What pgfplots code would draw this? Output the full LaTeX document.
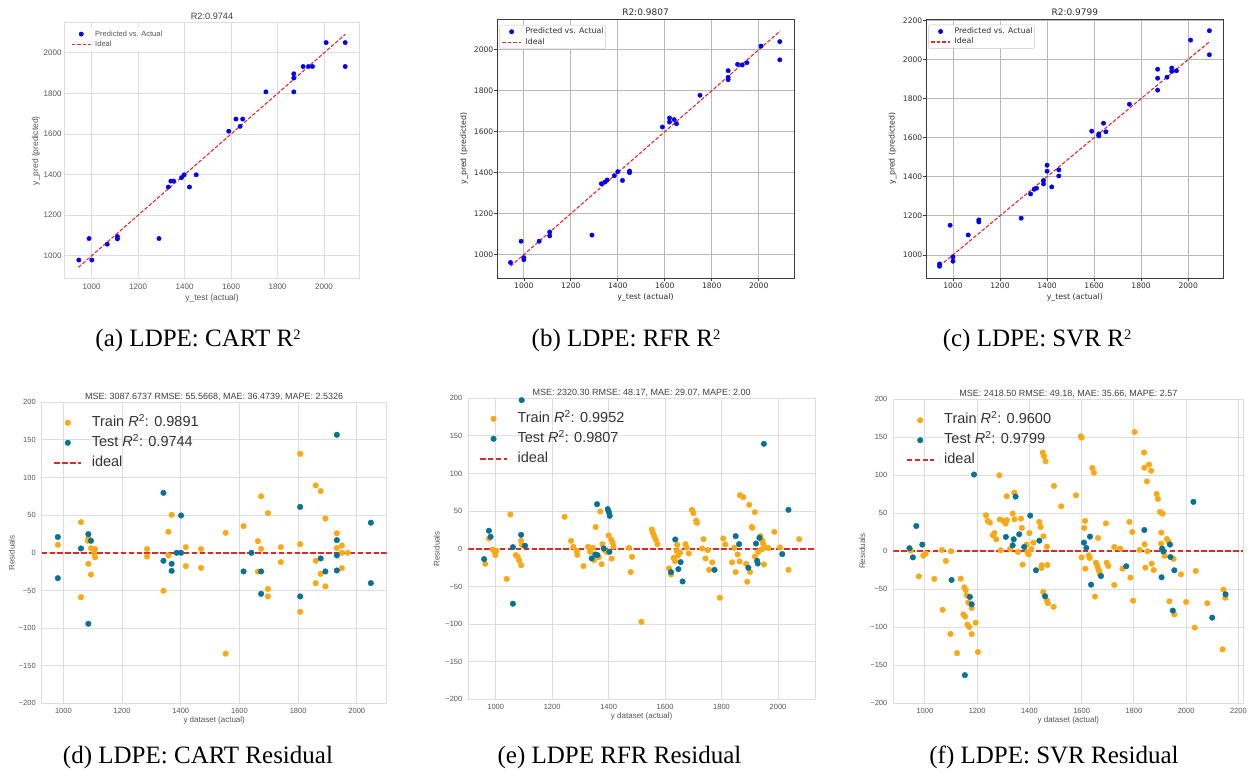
\documentclass[border=0pt]{standalone}
\usepackage{pgfplots}
\pgfplotsset{compat=1.18}
\usepackage{fontspec}
\setmainfont{Liberation Sans}
\newfontfamily\dejavu{DejaVu Sans}
\newfontfamily\capfont{Liberation Serif}
\definecolor{trainc}{RGB}{250,168,20}
\definecolor{testc}{RGB}{8,114,150}
\definecolor{idealc}{RGB}{214,45,40}
\definecolor{sbgrid}{RGB}{222,222,222}
\definecolor{sbtext}{RGB}{85,85,85}
\definecolor{mplgrid}{RGB}{185,185,185}
\definecolor{mplframe}{RGB}{60,60,60}
\definecolor{mpltext}{RGB}{45,45,45}
\definecolor{ptblue}{RGB}{0,0,245}
\definecolor{ptred}{RGB}{235,40,40}
\newcommand{\sq}{{\fontsize{14.5}{14.5}\selectfont\raisebox{7pt}{2}}}
\pgfplotsset{
  base/.style={scale only axis, anchor=south west,
    /pgf/number format/assume math mode=true,
    /pgf/number format/1000 sep={},
    title style={anchor=base, at={(axis description cs:0.5,1)}},
    xlabel style={anchor=center},
    ylabel style={anchor=center},
    legend cell align=left},
  sb/.style={base, axis line style={draw=sbgrid, line width=1pt},
    grid=major, major grid style={draw=sbgrid, line width=0.9pt},
    major tick length=0pt, tick style={draw=none},
    tick label style={text=sbtext},
    label style={text=sbtext}},
  mpl/.style={base, axis line style={draw=mplframe, line width=0.9pt},
    grid=major, major grid style={draw=mplgrid, line width=0.8pt},
    major tick length=3.5pt, tick align=outside, tick pos=left,
    tick style={draw=mplframe, line width=0.7pt},
    tick label style={text=mpltext},
    label style={text=mpltext}},
  topleg/.style={legend style={at={(axis description cs:#1)}, anchor=north west,
    inner xsep=2pt, inner ysep=3pt, row sep=3.3pt, column sep=0pt,
    nodes={inner sep=0pt, text height=5.6pt, text depth=1.6pt},
    cells={anchor=west}, rounded corners=2pt}},
  botleg/.style={legend style={at={(axis description cs:#1)}, anchor=north west,
    draw=none, fill=none, inner xsep=0pt, inner ysep=0pt, row sep=6.5pt, column sep=0pt,
    nodes={inner sep=0pt, text height=10.5pt, text depth=3pt},
    cells={anchor=west}, text=black!80,
    font=\fontsize{14.5}{16}\selectfont}},
  topmark/.style={legend image code/.code={\path[draw=none,fill=none] (0pt,-2.5pt) rectangle (23.5pt,2.5pt);
    \draw[mark repeat=2,mark phase=2,##1] plot coordinates {(0pt,0pt) (9.5pt,0pt) (19pt,0pt)};}},
  topline/.style={legend image code/.code={\path[draw=none,fill=none] (0pt,-2.5pt) rectangle (23.5pt,2.5pt);
    \draw[draw=ptred, line width=1.1pt, dash pattern=on 3.7pt off 1.8pt] (0pt,0pt) -- (19pt,0pt);}},
  botmark/.style={legend image code/.code={\path[draw=none,fill=none] (0pt,-4pt) rectangle (37.5pt,4pt);
    \draw[mark repeat=2,mark phase=2,##1] plot coordinates {(0pt,0pt) (13.5pt,0pt) (27pt,0pt)};}},
  botline/.style={legend image code/.code={\path[draw=none,fill=none] (0pt,-4pt) rectangle (37.5pt,4pt);
    \draw[draw=idealc, line width=1.6pt, dash pattern=on 5.5pt off 2.4pt] (0pt,0pt) -- (27pt,0pt);}},
  toppts/.style={only marks, mark=*, mark size=2.2pt, mark options={draw=ptblue, fill=ptblue}, topmark},
  topideal/.style={draw=ptred, line width=1.1pt, dash pattern=on 3.7pt off 1.8pt, topline},
  trainpts/.style={only marks, mark=*, mark size=2.8pt, mark options={draw=trainc, fill=trainc}, botmark},
  testpts/.style={only marks, mark=*, mark size=2.8pt, mark options={draw=testc, fill=testc}, botmark},
  botideal/.style={draw=idealc, line width=1.6pt, dash pattern=on 5.5pt off 2.4pt, botline},
  botaxis/.style={sb,
    ymin=-200, ymax=200, ytick={-200,-150,...,200},
    yticklabels={−200,−150,−100,−50,0,50,100,150,200},
    tick label style={font=\fontsize{7.5}{9}\selectfont},
    xticklabel style={anchor=center, inner sep=0pt, yshift=-7.6pt},
    yticklabel style={anchor=east, inner sep=0pt, xshift=-5.8pt},
    label style={font=\fontsize{8}{9.6}\selectfont},
    title style={font=\fontsize{9}{11}\selectfont, text=black!75, yshift=-3pt},
    xlabel={y dataset (actual)}, ylabel={Residuals},
    xlabel style={at={(axis description cs:0.5,-0.058)}},
    xtick={1000,1200,...,2200}},
}
\begin{document}
\begin{tikzpicture}
\useasboundingbox (0pt,0pt) rectangle (1250pt,776pt);
% ---------------- (a)
\begin{axis}[sb, at={(65pt,497pt)}, width=294pt, height=256.6pt,
  xmin=885.5, xmax=2150.5, ymin=885.5, ymax=2150.5,
  xtick={1000,1200,...,2000}, ytick={1000,1200,...,2000},
  tick label style={font=\fontsize{8}{9}\selectfont},
  xticklabel style={anchor=center, inner sep=0pt, yshift=-7.4pt},
  yticklabel style={anchor=east, inner sep=0pt, xshift=-3.3pt},
  title={R2:0.9744}, title style={font=\fontsize{9.2}{11}\selectfont, text=black!75, yshift=-3.5pt},
  xlabel={y\_test (actual)}, ylabel={y\_pred (predicted)},
  label style={font=\fontsize{8.5}{10}\selectfont},
  xlabel style={at={(axis description cs:0.5,-0.074)}},
  ylabel style={at={(axis description cs:-0.099,0.5)}},
  topleg={0.0136,0.981}, legend style={draw=none, fill=white, font=\fontsize{7.5}{8.5}\selectfont, text=sbtext}]
\addplot[toppts] table {
945 979
989 1085
1001 979
1067 1057
1111 1095
1111 1083
1290 1085
1330 1339
1341 1368
1353 1368
1387 1385
1398 1399
1421 1339
1450 1399
1590 1614
1621 1674
1639 1638
1650 1674
1750 1808
1870 1897
1870 1876
1870 1808
1910 1933
1933 1933
1950 1933
2009 2051
2091 2051
2091 1933
};
\addlegendentry{Predicted vs. Actual}
\addplot[topideal] coordinates {(943,943) (2092,2092)};
\addlegendentry{Ideal}
\end{axis}
% ---------------- (b)
\begin{axis}[mpl, at={(497pt,498pt)}, width=297pt, height=259pt,
  font=\dejavu,
  xmin=885.5, xmax=2150.5, ymin=885.5, ymax=2150.5,
  xtick={1000,1200,...,2000}, ytick={1000,1200,...,2000},
  tick label style={font=\dejavu\fontsize{7.6}{9}\selectfont},
  xticklabel style={anchor=center, inner sep=0pt, yshift=-4.5pt},
  yticklabel style={anchor=east, inner sep=0pt, xshift=0pt},
  title={R2:0.9807}, title style={font=\dejavu\fontsize{9}{11}\selectfont, text=mpltext, yshift=-2.8pt},
  xlabel={y\_test (actual)}, ylabel={y\_pred (predicted)},
  label style={font=\dejavu\fontsize{7.8}{9.5}\selectfont},
  xlabel style={at={(axis description cs:0.5,-0.076)}},
  ylabel style={at={(axis description cs:-0.111,0.5)}},
  topleg={0.008,0.977}, legend style={draw=black!22, fill=white, font=\dejavu\fontsize{7.8}{9}\selectfont, text=mpltext}]
\addplot[toppts] table {
943 961
988 1065
1000 985
1000 975
1065 1065
1110 1110
1110 1091
1290 1095
1330 1346
1345 1354
1355 1364
1385 1385
1400 1405
1420 1362
1450 1408
1450 1400
1590 1623
1620 1667
1620 1647
1640 1659
1650 1639
1750 1778
1870 1898
1870 1866
1870 1854
1910 1929
1930 1926
1950 1937
2010 2018
2090 2040
2090 1951
};
\addlegendentry{Predicted vs. Actual}
\addplot[topideal] coordinates {(943,943) (2092,2092)};
\addlegendentry{Ideal}
\end{axis}
% ---------------- (c)
\begin{axis}[mpl, at={(926pt,498pt)}, width=297.6pt, height=259pt,
  font=\dejavu,
  xmin=885.5, xmax=2150.5, ymin=882, ymax=2207,
  xtick={1000,1200,...,2000}, ytick={1000,1200,...,2200},
  tick label style={font=\dejavu\fontsize{7.6}{9}\selectfont},
  xticklabel style={anchor=center, inner sep=0pt, yshift=-4.5pt},
  yticklabel style={anchor=east, inner sep=0pt, xshift=0pt},
  title={R2:0.9799}, title style={font=\dejavu\fontsize{9}{11}\selectfont, text=mpltext, yshift=-2.8pt},
  xlabel={y\_test (actual)}, ylabel={y\_pred (predicted)},
  label style={font=\dejavu\fontsize{7.8}{9.5}\selectfont},
  xlabel style={at={(axis description cs:0.5,-0.075)}},
  ylabel style={at={(axis description cs:-0.112,0.5)}},
  topleg={0.008,0.978}, legend style={draw=black!22, fill=white, font=\dejavu\fontsize{7.8}{9}\selectfont, text=mpltext}]
\addplot[toppts] table {
943 954
943 942
988 1152
1000 990
1000 968
1065 1102
1110 1179
1110 1169
1290 1188
1330 1312
1345 1336
1355 1341
1385 1381
1385 1363
1400 1459
1400 1428
1420 1348
1450 1435
1450 1404
1590 1633
1620 1619
1620 1609
1640 1674
1650 1630
1750 1771
1870 1950
1870 1904
1870 1843
1910 1909
1930 1956
1930 1939
1950 1942
2010 2099
2090 2147
2090 2024
};
\addlegendentry{Predicted vs. Actual}
\addplot[topideal] coordinates {(943,943) (2092,2092)};
\addlegendentry{Ideal}
\end{axis}
% ---------------- (d)
\begin{axis}[botaxis, at={(41.7pt,72.7pt)}, width=345pt, height=301pt,
  xmin=926, xmax=2102, xtick={1000,1200,...,2000},
  title={MSE: 3087.6737 RMSE: 55.5668, MAE: 36.4739, MAPE: 2.5326},
  ylabel style={at={(axis description cs:-0.087,0.5)}},
  botleg={0.0336,0.955}]
\addplot[trainpts] table {
981 10.6
1060 40.7
1060 -59
1085 19.5
1083 16
1085 -14.6
1094 -29
1094 6
1108 5
1108 -6
1105 -1
1285 5
1285 -5
1341 -50.5
1358 28
1358 -3.5
1369 50.5
1417 7.5
1417 -17.7
1469 5
1469 -20
1553 26.6
1553 -134
1614 35.4
1663 15.5
1663 -25
1674 75
1674 5.3
1697 52.7
1697 -48
1697 -58
1741 7.5
1741 -12.4
1807 131.5
1807 11.5
1807 -78.4
1860 89.5
1860 -10.6
1860 -40.3
1877 82
1877 -28
1893 45.6
1893 -44.7
1932 26
1932 6.2
1949 9.7
1949 -20.4
1949 0
1969 0
};
\addlegendentry{Train {\itshape R}\textsuperscript{2}: 0.9891}
\addplot[testpts] table {
981 21
981 -33.7
1060 5.8
1085 24.8
1094 16
1085 -94.3
1341 79.7
1341 -10.6
1369 -14.6
1369 -24
1386 0
1401 0
1401 49.6
1614 -24.8
1641 0
1674 -24.8
1674 -54.5
1807 61
1807 -58
1877 -7.5
1893 -24.8
1932 156.8
1932 16.8
1932 -3.5
1932 -23.5
2048 40
2048 -40.3
};
\addlegendentry{Test {\itshape R}\textsuperscript{2}: 0.9744}
\addplot[botideal] coordinates {(926,0) (2102,0)};
\addlegendentry{ideal}
\end{axis}
% ---------------- (e)
\begin{axis}[botaxis, at={(468.3pt,76.7pt)}, width=346.7pt, height=301pt,
  xmin=903, xmax=2131, xtick={1000,1200,...,2000},
  title={MSE: 2320.30 RMSE: 48.17, MAE: 29.07, MAPE: 2.00},
  ylabel style={at={(axis description cs:-0.091,0.5)}},
  botleg={0.031,0.955}]
\addplot[trainpts] table {
963 -20
976 13.7
989 -1
996 -4
999 -8.4
1002 -2.7
1039 -40
1052 45.6
1071 -8.4
1078 -10.6
1083 -15.5
1090 -21.7
1090 10.6
1093 4.9
1244 42.5
1267 10.6
1275 2.7
1287 -3
1289 -8
1311 -23
1327 2.7
1335 -4
1344 1.3
1348 -15
1354 29
1360 -8.4
1365 -11
1370 49.6
1375 -20.4
1378 6.2
1386 -1.8
1393 -4.4
1400 17.7
1410 12
1414 8
1417 3
1411 -13
1472 1.3
1483 -10.6
1478 -31
1516 -97
1553 25.7
1557 21
1562 16.4
1567 12
1573 6.2
1614 -26
1621 -34
1630 -12
1635 -16.4
1641 -2.7
1643 5.3
1645 -9
1653 -5
1672 6.2
1676 1.8
1684 -6.2
1695 51.8
1700 47.4
1710 37.6
1713 34.5
1736 12.8
1731 0.4
1743 -12.8
1751 -1.8
1756 -28
1767 -18
1794 -65
1806 13.7
1813 5.8
1837 -18
1850 -31
1845 1.3
1857 -7.5
1865 71.3
1877 68.6
1864 -16.8
1898 58.5
1887 -20
1891 -43.8
1901 -31
1907 29
1909 28
1918 48.7
1918 -10.2
1930 -4
1938 16.8
1943 11.5
1947 7
1942 -0.9
1952 2.7
1950 -20.8
1966 0.9
1987 22.6
2007 1.8
2037 -28
2075 12.8
};
\addlegendentry{Train {\itshape R}\textsuperscript{2}: 0.9952}
\addplot[testpts] table {
959 -13.7
976 24
982 16
1061 2.2
1061 -73
1090 18.6
1092 197.5
1104 4
1340 -12.8
1353 -7.5
1360 -8.4
1359 59.3
1383 0.4
1397 52.7
1401 48.7
1404 43.8
1403 -4
1621 -31
1636 12.4
1647 -27
1655 -17.7
1662 -43.4
1775 -28
1850 16.8
1862 6.2
1895 -25.2
1922 7
1926 -16
1928 -19.5
1934 14.6
1950 139.5
2015 -7
2037 51.8
};
\addlegendentry{Test {\itshape R}\textsuperscript{2}: 0.9807}
\addplot[botideal] coordinates {(903,0) (2131,0)};
\addlegendentry{ideal}
\end{axis}
% ---------------- (f)
\begin{axis}[botaxis, at={(893.3pt,72.7pt)}, width=350pt, height=304pt,
  xmin=879, xmax=2219,
  title={MSE: 2418.50 RMSE: 49.18, MAE: 35.66, MAPE: 2.57},
  ylabel style={at={(axis description cs:-0.089,0.5)}},
  botleg={0.0354,0.954}]
\addplot[trainpts] table {
946 1
977 -33
994 -5.7
1003 -3
1036 -36.4
1065 1.8
1068 -77
1080 -12.7
1098 -108.8
1100 0
1123 -134
1137 -36
1147 -83
1154 -86
1151 -47.4
1156 -51
1160 -58
1163 -96.5
1170 -99.6
1166 -67.5
1179 -74.6
1179 -109
1194 -94
1203 -132.5
1234 47.4
1240 40
1249 37.7
1260 21
1266 24
1273 15.8
1285 100
1287 42
1290 1.3
1300 40
1309 36.4
1313 72.4
1314 41
1326 3
1336 49.6
1342 77.2
1343 42
1356 -0.9
1368 43
1371 30.7
1374 -17.5
1389 8.8
1392 -0.9
1400 24
1397 -4
1407 3
1415 11.4
1438 38.6
1443 32
1446 -22
1447 -18.4
1451 129.8
1456 125
1462 118.4
1454 19.7
1453 -53.5
1467 6.1
1469 -18
1467 -64.5
1471 -68.4
1493 -73
1494 86
1522 59.2
1578 73.7
1597 151.3
1600 149.6
1600 -8
1613 40
1610 30.7
1614 -22.8
1627 -5.3
1631 -8.8
1641 109.6
1647 103.5
1651 -59.6
1655 -15
1660 -19.3
1664 -23.7
1668 -27
1670 -30.3
1663 17.5
1693 36.8
1696 -15
1702 -19.3
1725 -44.3
1725 5.7
1748 3.5
1756 -22.8
1783 38.6
1794 25.4
1787 -34.6
1797 -65
1803 157
1822 1.8
1839 130
1840 110
1841 9.2
1844 -21.5
1850 92
1852 0
1858 114
1866 106
1868 -16.2
1876 -24.6
1887 75.4
1892 68.9
1900 51.8
1910 49.6
1905 24.6
1904 10
1914 -1
1918 -6
1926 16.2
1933 12.3
1936 -65.8
1952 -10
1955 -83
1980 -30.3
2000 -66.7
2033 -100.4
2037 -25.9
2081 -68.4
2140 -129
2143 -50.4
2150 -61
};
\addlegendentry{Train {\itshape R}\textsuperscript{2}: 0.9600}
\addplot[testpts] table {
941 4
954 -8
967 33.3
990 8.8
1102 -37.7
1172 -60
1179 -69.7
1153 -163
1188 101
1310 18.9
1336 7.9
1340 15.8
1347 72
1361 22.4
1380 5.7
1403 47
1425 -25
1438 14
1460 -59.2
1609 11.4
1618 4.4
1632 19.3
1636 -43.9
1674 -32.5
1771 -19.7
1840 28
1908 3.5
1913 0
1906 -34.2
1938 8.8
1940 -7.5
1949 -78
1955 -25
2028 65
2100 -87.3
2151 -56.6
};
\addlegendentry{Test {\itshape R}\textsuperscript{2}: 0.9799}
\addplot[botideal] coordinates {(879,0) (2219,0)};
\addlegendentry{ideal}
\end{axis}
% ---------------- captions
\begin{scope}[every node/.style={font=\capfont\fontsize{25}{28}\selectfont, anchor=center, inner sep=0pt}]
\node at (198pt,436pt) {(a) LDPE: CART R\sq};
\node at (626pt,436pt) {(b) LDPE: RFR R\sq};
\node at (1037pt,436pt) {(c) LDPE: SVR R\sq};
\node at (198pt,19pt) {(d) LDPE: CART Residual};
\node at (619.5pt,19pt) {(e) LDPE RFR Residual};
\node at (1054pt,19pt) {(f) LDPE: SVR Residual};
\end{scope}
\end{tikzpicture}
\end{document}
